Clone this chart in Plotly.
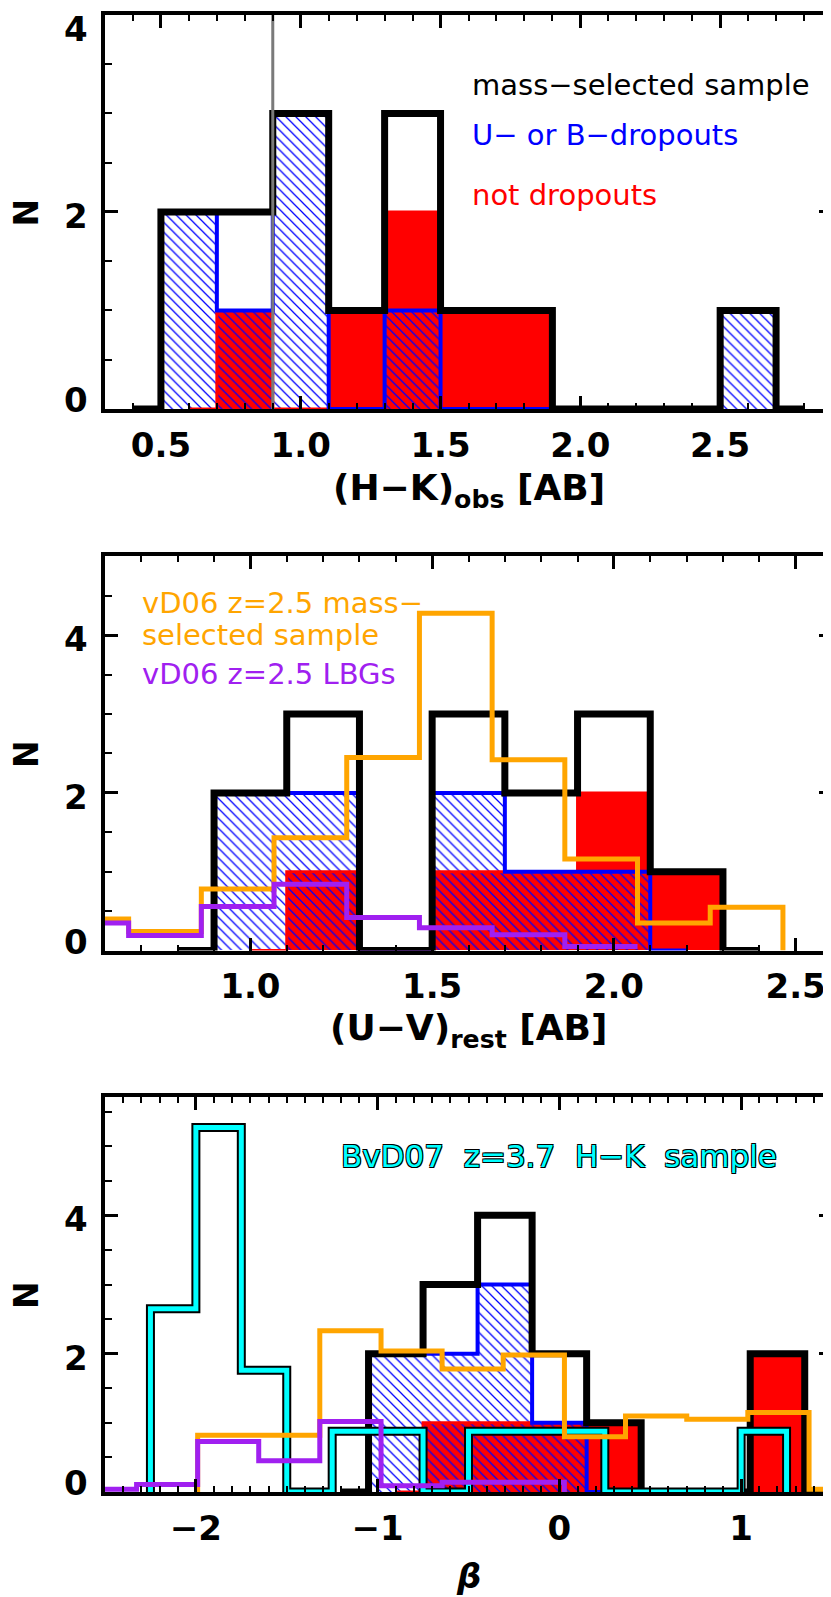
import plotly.graph_objects as go

# ---------------- data ----------------
# Panel 1: (H-K)obs
hk_bin = 0.2
hk_all_centers = [0.4, 0.6, 0.8, 1.0, 1.2, 1.4, 1.6, 1.8, 2.0, 2.2, 2.4, 2.6, 2.8]
hk_all_counts = [0, 2, 2, 3, 1, 3, 1, 1, 0, 0, 0, 1, 0]
hk_drop_centers = [0.6, 0.8, 1.0, 1.2, 1.4, 1.6, 1.8, 2.0, 2.2, 2.4, 2.6]
hk_drop_counts = [2, 1, 3, 0, 1, 0, 0, 0, 0, 0, 1]
hk_nodrop_centers = [0.6, 0.8, 1.0, 1.2, 1.4, 1.6, 1.8]
hk_nodrop_counts = [0, 1, 0, 1, 2, 1, 1]
hk_cut = 0.9
hk_ticks = [0.5, 1.0, 1.5, 2.0, 2.5]

# Panel 2: (U-V)rest
uv_bin = 0.2
uv_all_centers = [0.8, 1.0, 1.2, 1.4, 1.6, 1.8, 2.0, 2.2, 2.4]
uv_all_counts = [0, 2, 3, 0, 3, 2, 3, 1, 0]
uv_drop_centers = [1.0, 1.2, 1.4, 1.6, 1.8, 2.0, 2.2]
uv_drop_counts = [2, 2, 0, 2, 1, 1, 0]
uv_nodrop_centers = [1.0, 1.2, 1.4, 1.6, 1.8, 2.0, 2.2]
uv_nodrop_counts = [0, 1, 0, 1, 1, 2, 1]
vd06_uv_centers = [0.565, 0.765, 0.965, 1.165, 1.365, 1.565, 1.765, 1.965, 2.165, 2.365]
vd06_uv_mass = [0.40, 0.24, 0.78, 1.43, 2.45, 4.28, 2.42, 1.16, 0.35, 0.55]
vd06_uv_lbg_centers = [0.565, 0.765, 0.965, 1.165, 1.365, 1.565, 1.765, 1.965]
vd06_uv_lbg = [0.35, 0.19, 0.56, 0.84, 0.42, 0.29, 0.20, 0.05]
uv_ticks = [1.0, 1.5, 2.0, 2.5]

# Panel 3: beta
beta_bin = 0.3
beta_all_centers = [-1.2, -0.9, -0.6, -0.3, 0.0, 0.3, 0.6, 0.9, 1.2, 1.5]
beta_all_counts = [0, 2, 3, 4, 2, 1, 0, 0, 2, 0]
beta_drop_centers = [-0.9, -0.6, -0.3, 0.0, 0.3]
beta_drop_counts = [2, 2, 3, 1, 0]
beta_nodrop_centers = [-0.9, -0.6, -0.3, 0.0, 0.3, 0.6, 0.9, 1.2]
beta_nodrop_counts = [0, 1, 1, 1, 1, 0, 0, 2]
bvd07_bin = 0.25
bvd07_centers = [-2.125, -1.875, -1.625, -1.375, -1.125, -0.875, -0.625,
                 -0.375, -0.125, 0.125, 0.375, 0.625, 0.875, 1.125]
bvd07_counts = [2.65, 5.27, 1.76, 0, 0.88, 0.88, 0, 0.88, 0.88, 0.88, 0, 0, 0, 0.88]
vd06_beta_bin = 0.3364
vd06_beta_centers = [-1.822, -1.486, -1.150, -0.813, -0.477, -0.141,
                     0.196, 0.532, 0.869, 1.205, 1.542]
vd06_beta_mass = [0.82, 0.82, 2.33, 2.04, 1.78, 1.98, 0.80, 1.10, 1.05, 1.15, 0.04]
vd06_beta_lbg_centers = [-2.494, -2.158, -1.822, -1.486, -1.150, -0.813, -0.477, -0.141]
vd06_beta_lbg = [0.04, 0.11, 0.73, 0.45, 1.02, 0.09, 0.14, 0.14]
beta_ticks = [-2, -1, 0, 1]
beta_ticktext = ["\u22122", "\u22121", "0", "1"]

y_ticks = [0, 2, 4]

# ---------------- styles ----------------
BLACK = "black"
BLUE = "#0000ff"
RED = "#ff0000"
ORANGE = "#ffa500"
PURPLE = "#a020f0"
CYAN = "#00ffff"
GRAY = "#7a7a7a"
FONT = "DejaVu Sans"


def step_xy(centers, counts, width, close_left=False, close_right=False):
    xs, ys = [], []
    if close_left:
        xs.append(centers[0] - width / 2)
        ys.append(0)
    for c, n in zip(centers, counts):
        xs.append(c - width / 2)
        ys.append(n)
    xs.append(centers[-1] + width / 2)
    ys.append(counts[-1])
    if close_right:
        xs.append(centers[-1] + width / 2)
        ys.append(0)
    return xs, ys


fig = go.Figure()


def add_panel(k, all_c, all_n, drop_c, drop_n, nod_c, nod_n, width):
    xa, ya = ("x", "y") if k == 1 else (f"x{k}", f"y{k}")
    # red filled (not dropouts)
    fig.add_trace(go.Bar(x=nod_c, y=nod_n, width=width, marker=dict(color=RED, line=dict(width=0)),
                         xaxis=xa, yaxis=ya, showlegend=False))
    fig.add_trace(go.Scatter(x=nod_c, y=nod_n, mode="lines", line=dict(color=RED, width=3, shape="hvh"),
                             xaxis=xa, yaxis=ya, showlegend=False))
    # blue hatched (dropouts)
    fig.add_trace(go.Bar(x=drop_c, y=drop_n, width=width,
                         marker=dict(color="rgba(0,0,0,0)", line=dict(width=0),
                                     pattern=dict(shape="\\", fgcolor=BLUE, bgcolor="rgba(0,0,0,0)",
                                                  size=7, solidity=0.18, fillmode="replace")),
                         xaxis=xa, yaxis=ya, showlegend=False))
    fig.add_trace(go.Scatter(x=drop_c, y=drop_n, mode="lines", line=dict(color=BLUE, width=4, shape="hvh"),
                             xaxis=xa, yaxis=ya, showlegend=False))
    # black (mass-selected)
    fig.add_trace(go.Scatter(x=all_c, y=all_n, mode="lines", line=dict(color=BLACK, width=7, shape="hvh"),
                             xaxis=xa, yaxis=ya, showlegend=False))


add_panel(1, hk_all_centers, hk_all_counts, hk_drop_centers, hk_drop_counts,
          hk_nodrop_centers, hk_nodrop_counts, hk_bin)
fig.add_trace(go.Scatter(x=[hk_cut, hk_cut], y=[0, 4], mode="lines", line=dict(color=GRAY, width=3),
                         xaxis="x", yaxis="y", showlegend=False))

add_panel(2, uv_all_centers, uv_all_counts, uv_drop_centers, uv_drop_counts,
          uv_nodrop_centers, uv_nodrop_counts, uv_bin)
xs, ys = step_xy(vd06_uv_centers, vd06_uv_mass, uv_bin, close_right=True)
fig.add_trace(go.Scatter(x=xs, y=ys, mode="lines", line=dict(color=ORANGE, width=5, shape="hv"),
                         xaxis="x2", yaxis="y2", showlegend=False))
xs, ys = step_xy(vd06_uv_lbg_centers, vd06_uv_lbg, uv_bin)
fig.add_trace(go.Scatter(x=xs, y=ys, mode="lines", line=dict(color=PURPLE, width=5, shape="hv"),
                         xaxis="x2", yaxis="y2", showlegend=False))

add_panel(3, beta_all_centers, beta_all_counts, beta_drop_centers, beta_drop_counts,
          beta_nodrop_centers, beta_nodrop_counts, beta_bin)
xs, ys = step_xy(bvd07_centers, bvd07_counts, bvd07_bin, close_left=True, close_right=True)
fig.add_trace(go.Scatter(x=xs, y=ys, mode="lines", line=dict(color=BLACK, width=9, shape="hv"),
                         xaxis="x3", yaxis="y3", showlegend=False))
fig.add_trace(go.Scatter(x=xs, y=ys, mode="lines", line=dict(color=CYAN, width=5, shape="hv"),
                         xaxis="x3", yaxis="y3", showlegend=False))
xs, ys = step_xy(vd06_beta_centers, vd06_beta_mass, vd06_beta_bin, close_left=True)
fig.add_trace(go.Scatter(x=xs, y=ys, mode="lines", line=dict(color=ORANGE, width=5, shape="hv"),
                         xaxis="x3", yaxis="y3", showlegend=False))
xs, ys = step_xy(vd06_beta_lbg_centers, vd06_beta_lbg, vd06_beta_bin, close_right=True)
fig.add_trace(go.Scatter(x=xs, y=ys, mode="lines", line=dict(color=PURPLE, width=5, shape="hv"),
                         xaxis="x3", yaxis="y3", showlegend=False))

# ---------------- axes ----------------
tickfont = dict(family=FONT, size=34, color="black", weight="bold")


def xaxis(rng, tickvals, ticktext, minor_dtick, anchor):
    return dict(range=rng, domain=[0, 1], anchor=anchor, tickvals=tickvals, ticktext=ticktext,
                showline=True, linewidth=4, linecolor="black", mirror="ticks",
                ticks="inside", ticklen=13, tickwidth=3, tickcolor="black",
                ticklabelstandoff=3, tickfont=tickfont,
                showgrid=False, zeroline=False,
                minor=dict(ticks="inside", ticklen=6, tickwidth=2, tickcolor="black",
                           dtick=minor_dtick, tick0=0, showgrid=False))


def yaxis(rng, dom, anchor):
    return dict(range=rng, domain=dom, anchor=anchor, tickvals=y_ticks, showticklabels=False,
                showline=True, linewidth=4, linecolor="black", mirror="ticks",
                ticks="inside", ticklen=13, tickwidth=3, tickcolor="black",
                showgrid=False, zeroline=False,
                minor=dict(ticks="inside", ticklen=7, tickwidth=2, tickcolor="black",
                           dtick=0.5, tick0=0, showgrid=False))


y1_range = [0, 4]
y2_range = [0, 5]
y3_range = [0, 5.71]

fig.update_layout(
    width=831, height=1597,
    margin=dict(l=97, r=3, t=3, b=113),
    paper_bgcolor="white", plot_bgcolor="white",
    barmode="overlay", bargap=0,
    xaxis=xaxis([0.3, 2.9], hk_ticks, [f"{v:.1f}" for v in hk_ticks], 0.1, "y"),
    yaxis=yaxis(y1_range, [0.7333, 1.0], "x"),
    xaxis2=xaxis([0.6, 2.6], uv_ticks, [f"{v:.1f}" for v in uv_ticks], 0.1, "y2"),
    yaxis2=yaxis(y2_range, [0.3666, 0.6334], "x2"),
    xaxis3=xaxis([-2.5, 1.5], beta_ticks, beta_ticktext, 0.1, "y3"),
    yaxis3=yaxis(y3_range, [0.0, 0.2674], "x3"),
    showlegend=False,
)

ann = []
# y tick labels (IDL keeps end labels inside the axis extent)
for k, rng in ((1, y1_range), (2, y2_range), (3, y3_range)):
    yref = "y" if k == 1 else f"y{k}"
    xref = ("x" if k == 1 else f"x{k}") + " domain"
    for v in y_ticks:
        if v == rng[0]:
            shift = 9
        elif v == rng[1]:
            shift = -14
        else:
            shift = -4
        ann.append(dict(x=-0.021, xref=xref, y=v, yref=yref, text=str(v), showarrow=False,
                        xanchor="right", yanchor="middle", yshift=shift, font=tickfont))
    # N label
    ann.append(dict(x=-0.108, xref="paper", y=0.5, yref=yref + " domain", text="<b>N</b>",
                    showarrow=False, textangle=-90, xanchor="center", yanchor="middle",
                    font=dict(family=FONT, size=33, color="black")))

titlefont = dict(family=FONT, size=36, color="black")
ann.append(dict(x=0.5, xref="x domain", y=-0.208, yref="y domain",
                text="<b>(H\u2212K)<sub>obs</sub> [AB]</b>", showarrow=False,
                xanchor="center", yanchor="middle", font=titlefont))
ann.append(dict(x=0.5, xref="x2 domain", y=-0.203, yref="y2 domain",
                text="<b>(U\u2212V)<sub>rest</sub> [AB]</b>", showarrow=False,
                xanchor="center", yanchor="middle", font=titlefont))
ann.append(dict(x=0.5, xref="x3 domain", y=-0.212, yref="y3 domain",
                text="<b><i>\u03b2</i></b>", showarrow=False,
                xanchor="center", yanchor="middle", font=dict(family=FONT, size=34, color="black")))

legfont = 29
ann.append(dict(x=0.502, xref="x domain", y=0.823, yref="y domain", text="mass\u2212selected sample",
                showarrow=False, xanchor="left", yanchor="middle",
                font=dict(family=FONT, size=legfont, color=BLACK)))
ann.append(dict(x=0.502, xref="x domain", y=0.696, yref="y domain", text="U\u2212 or B\u2212dropouts",
                showarrow=False, xanchor="left", yanchor="middle",
                font=dict(family=FONT, size=legfont, color=BLUE)))
ann.append(dict(x=0.502, xref="x domain", y=0.544, yref="y domain", text="not dropouts",
                showarrow=False, xanchor="left", yanchor="middle",
                font=dict(family=FONT, size=legfont, color=RED)))

ann.append(dict(x=0.048, xref="x2 domain", y=0.881, yref="y2 domain", text="vD06 z=2.5 mass\u2212",
                showarrow=False, xanchor="left", yanchor="middle",
                font=dict(family=FONT, size=legfont, color=ORANGE)))
ann.append(dict(x=0.048, xref="x2 domain", y=0.800, yref="y2 domain", text="selected sample",
                showarrow=False, xanchor="left", yanchor="middle",
                font=dict(family=FONT, size=legfont, color=ORANGE)))
ann.append(dict(x=0.048, xref="x2 domain", y=0.701, yref="y2 domain", text="vD06 z=2.5 LBGs",
                showarrow=False, xanchor="left", yanchor="middle",
                font=dict(family=FONT, size=legfont, color=PURPLE)))

ann.append(dict(x=0.322, xref="x3 domain", y=0.851, yref="y3 domain",
                text="BvD07\u00a0 z=3.7\u00a0 H\u2212K\u00a0 sample",
                showarrow=False, xanchor="left", yanchor="middle",
                font=dict(family=FONT, size=31, color=CYAN,
                          shadow="1px 1px 0 #000, -1px -1px 0 #000, 1px -1px 0 #000, -1px 1px 0 #000")))

fig.update_layout(annotations=ann)
fig.write_html("out.html")
